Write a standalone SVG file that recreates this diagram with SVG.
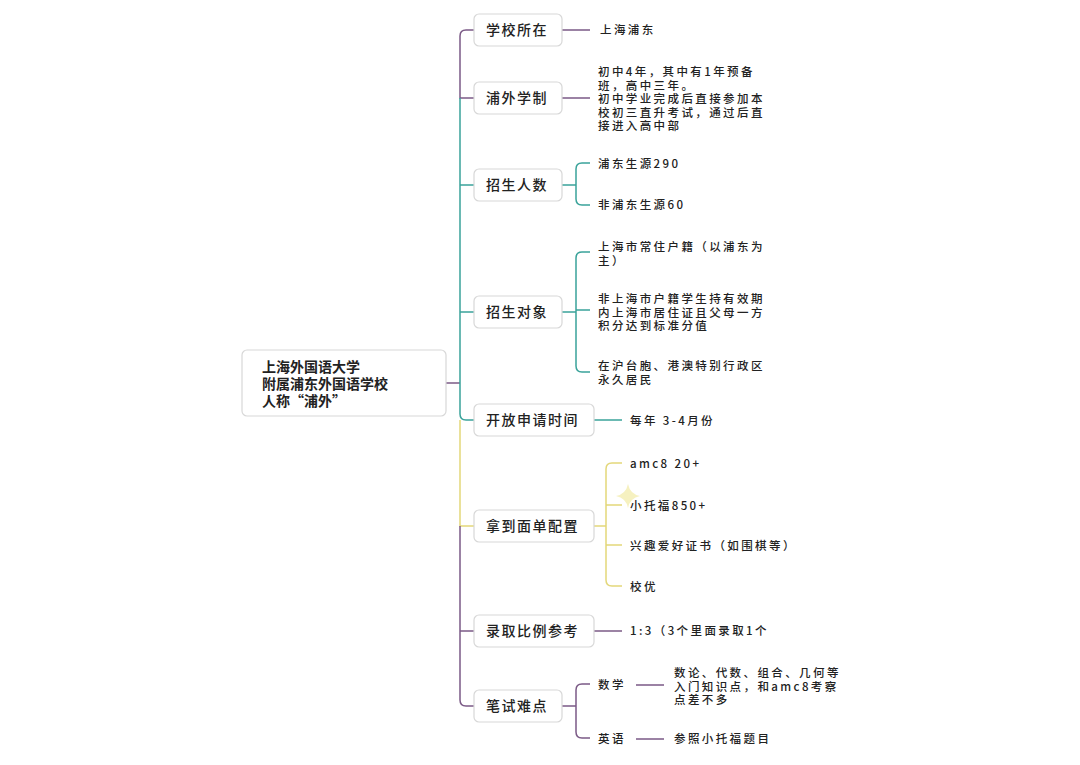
<svg xmlns="http://www.w3.org/2000/svg" width="1080" height="765" viewBox="0 0 1080 765">
<style>
text{font-family:"Noto Sans CJK SC","Liberation Sans",sans-serif;fill:#222}
.b{font-size:14px;letter-spacing:1.5px;font-weight:500}
.l{font-size:11.5px;letter-spacing:2.4px;font-weight:500}
.r{font-size:14px;font-weight:bold}
.box{fill:#fff;stroke:#d8d8d8;stroke-width:1.2}
.p{stroke:#7b5a86;fill:none;stroke-width:1.5}
.t{stroke:#3aa39a;fill:none;stroke-width:1.5}
.y{stroke:#e3d77a;fill:none;stroke-width:1.5}
</style>
<rect width="1080" height="765" fill="#fff"/>
<g id="connectors">
<path class="p" d="M446 383 H460"/>
<path class="p" d="M474 30 H466 Q460 30 460 36 V98 H474"/>
<path class="t" d="M460 98 V414 Q460 420 466 420 H474 M460 185 H474 M460 312 H474"/>
<path class="y" d="M460 420 V526 H474"/>
<path class="p" d="M460 526 V700 Q460 706 466 706 H474 M460 631 H474"/>
<path class="p" d="M562 30 H590 M562 98 H590"/>
<path class="t" d="M562 185 H576 M576 169 Q576 163 582 163 H590 M576 169 V199 Q576 205 582 205 H590"/>
<path class="t" d="M562 312 H576 M576 258 Q576 252 582 252 H590 M576 258 V366 Q576 372 582 372 H590 M576 310 H590"/>
<path class="t" d="M594 420 H622"/>
<path class="y" d="M594 526 H606 M606 469 Q606 463 612 463 H622 M606 469 V580 Q606 586 612 586 H622 M606 505 H622 M606 545 H622"/>
<path class="p" d="M594 631 H622"/>
<path class="p" d="M562 706 H576 M576 690 Q576 684 582 684 H590 M576 690 V732 Q576 738 582 738 H590 M636 685 H664 M636 739 H664"/>
</g>
<g id="root"><rect class="box" x="242" y="350" width="204" height="66" rx="5"/>
<text class="r" x="262" y="372">上海外国语大学</text><text class="r" x="262" y="389">附属浦东外国语学校</text><text class="r" x="262" y="406">人称“浦外”</text></g>
<g id="n1"><rect class="box" x="474" y="14" width="88" height="32" rx="5"/><text class="b" x="486" y="35">学校所在</text><text class="l" x="600" y="34">上海浦东</text></g>
<g id="n2"><rect class="box" x="474" y="82" width="88" height="32" rx="5"/><text class="b" x="486" y="103">浦外学制</text>
<text class="l"><tspan x="598" y="76">初中4年，其中有1年预备</tspan><tspan x="598" y="89.5">班，高中三年。</tspan><tspan x="598" y="103">初中学业完成后直接参加本</tspan><tspan x="598" y="116.5">校初三直升考试，通过后直</tspan><tspan x="598" y="130">接进入高中部</tspan></text></g>
<g id="n3"><rect class="box" x="474" y="169" width="88" height="32" rx="5"/><text class="b" x="486" y="190">招生人数</text>
<text class="l" x="598" y="168">浦东生源290</text><text class="l" x="598" y="209">非浦东生源60</text></g>
<g id="n4"><rect class="box" x="474" y="296" width="88" height="32" rx="5"/><text class="b" x="486" y="317">招生对象</text>
<text class="l"><tspan x="598" y="251">上海市常住户籍（以浦东为</tspan><tspan x="598" y="264.5">主）</tspan><tspan x="598" y="303">非上海市户籍学生持有效期</tspan><tspan x="598" y="316.5">内上海市居住证且父母一方</tspan><tspan x="598" y="330">积分达到标准分值</tspan><tspan x="598" y="370">在沪台胞、港澳特别行政区</tspan><tspan x="598" y="383.5">永久居民</tspan></text></g>
<g id="n5"><rect class="box" x="474" y="404" width="120" height="32" rx="5"/><text class="b" x="486" y="425">开放申请时间</text><text class="l" x="630" y="425">每年 3-4月份</text></g>
<g id="n6"><rect class="box" x="474" y="510" width="120" height="32" rx="5"/><text class="b" x="486" y="531">拿到面单配置</text>
<text class="l" x="630" y="468">amc8 20+</text><text class="l" x="630" y="510">小托福850+</text><text class="l" x="630" y="550">兴趣爱好证书（如围棋等）</text><text class="l" x="630" y="591">校优</text>
<path d="M628 484 Q630 494 640 496 Q630 498 628 508 Q626 498 616 496 Q626 494 628 484Z" fill="#f4eeb0" opacity="0.8"/></g>
<g id="n7"><rect class="box" x="474" y="615" width="120" height="32" rx="5"/><text class="b" x="486" y="636">录取比例参考</text><text class="l" x="630" y="635">1:3（3个里面录取1个</text></g>
<g id="n8"><rect class="box" x="474" y="690" width="88" height="32" rx="5"/><text class="b" x="486" y="711">笔试难点</text>
<text class="l" x="598" y="689">数学</text><text class="l" x="598" y="743">英语</text>
<text class="l"><tspan x="674" y="677">数论、代数、组合、几何等</tspan><tspan x="674" y="690.5">入门知识点，和amc8考察</tspan><tspan x="674" y="704">点差不多</tspan></text>
<text class="l" x="674" y="743">参照小托福题目</text></g>
</svg>
